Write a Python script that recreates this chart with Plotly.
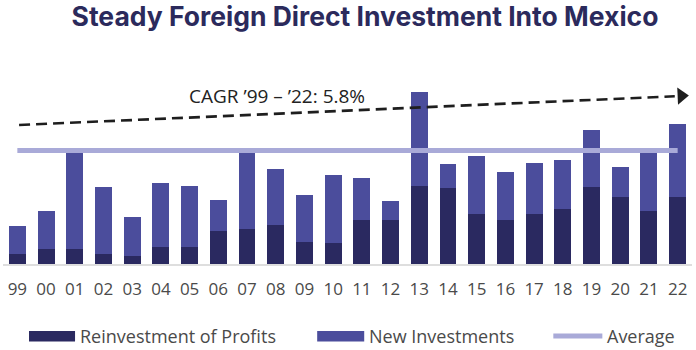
import plotly.graph_objects as go

years = ["99", "00", "01", "02", "03", "04", "05", "06", "07", "08", "09", "10",
         "11", "12", "13", "14", "15", "16", "17", "18", "19", "20", "21", "22"]
reinvestment = [2.7, 4.2, 4.2, 2.7, 2.3, 4.8, 4.8, 9.3, 9.8, 10.8, 6.0, 5.9,
                12.3, 12.3, 21.6, 21.0, 13.8, 12.3, 14.0, 15.4, 21.3, 18.7, 14.6, 18.7]
new_investments = [7.9, 10.5, 26.6, 18.6, 10.7, 17.6, 16.9, 8.4, 21.0, 15.6, 13.1, 18.7,
                   11.7, 5.2, 26.2, 6.9, 16.1, 13.2, 14.1, 13.6, 15.8, 8.2, 16.2, 20.1]
average_value = 31.5
cagr_label = "CAGR \u201999 \u2013 \u201922: 5.8%"
trend_start = 38.6   # dashed CAGR guide, value at first year
trend_end = 46.6     # value near last year

DARK = "#2a2960"
MID = "#4b4d9c"
LAV = "#a9aad8"
TXT = "#4a4a4a"
BODY = "Open Sans"

xs = list(range(len(years)))
n = len(years)

fig = go.Figure()
fig.add_trace(go.Bar(x=xs, y=reinvestment, name="Reinvestment of Profits",
                     marker=dict(color=DARK, line=dict(width=0)), width=0.59))
fig.add_trace(go.Bar(x=xs, y=new_investments, name="New Investments",
                     marker=dict(color=MID, line=dict(width=0)), width=0.59))
fig.add_trace(go.Scatter(x=[0, n - 1], y=[average_value, average_value], mode="lines",
                         name="Average", line=dict(color=LAV, width=5)))

# dashed CAGR trend with arrow head
tx0, tx1 = 0.06, n - 1.1
fig.add_trace(go.Scatter(x=[tx0, tx1], y=[trend_start, trend_end], mode="lines",
                         line=dict(color="#1e1e1e", width=2.6, dash="11px,6px"),
                         showlegend=False, hoverinfo="skip"))
slope = (trend_end - trend_start) / (tx1 - tx0)
ax = n - 0.87
fig.add_trace(go.Scatter(x=[ax], y=[trend_start + slope * (ax - tx0)], mode="markers",
                         marker=dict(symbol="triangle-right", size=15, color="#1e1e1e",
                                     angle=-2.5, line=dict(width=0)),
                         showlegend=False, hoverinfo="skip"))

fig.add_annotation(x=9.03, y=46.6, text=cagr_label, showarrow=False,
                   font=dict(family=BODY, size=19, color="#222222"),
                   xanchor="center", yanchor="middle")

# manual legend (pixel geometry converted to paper coords)
L, R, T, B = 3, 4.4, 60, 86
W, H = 696 - L - R, 350 - T - B
def px(xp): return (xp - L) / W
def py(yp): return (350 - B - yp) / H

legend_items = [("Reinvestment of Profits", DARK, 29, 75, "bar"),
                ("New Investments", MID, 317, 364, "bar"),
                ("Average", LAV, 553, 602, "line")]
for label, col, x0, x1, kind in legend_items:
    if kind == "bar":
        fig.add_shape(type="rect", xref="paper", yref="paper",
                      x0=px(x0), x1=px(x1), y0=py(341.5), y1=py(331),
                      fillcolor=col, line=dict(width=0))
    else:
        fig.add_shape(type="line", xref="paper", yref="paper",
                      x0=px(x0), x1=px(x1), y0=py(336), y1=py(336),
                      line=dict(color=col, width=5))
    fig.add_annotation(xref="paper", yref="paper", x=px(x1 + 3), y=py(336), text=label,
                       showarrow=False, xanchor="left", yanchor="middle",
                       font=dict(family=BODY, size=18, color=TXT))

fig.update_layout(
    barmode="stack",
    width=696, height=350,
    margin=dict(l=L, r=R, t=T, b=B),
    paper_bgcolor="white", plot_bgcolor="white",
    showlegend=False,
    title=dict(text="<b>Steady Foreign Direct Investment Into Mexico</b>",
               x=365 / 696, xanchor="center", xref="container",
               y=1 - 16.5 / 350, yanchor="middle", yref="container",
               font=dict(family="Inter", size=26.5, color="#2b2a5c")),
    xaxis=dict(range=[-0.5, n - 0.5], tickmode="array", tickvals=xs, ticktext=years,
               showgrid=False, zeroline=False, showline=True, linecolor="#dedede",
               linewidth=2, ticks="", tickfont=dict(family=BODY, size=17, color=TXT),
               ticklabelstandoff=9),
    yaxis=dict(range=[0, H / 3.6], visible=False, showgrid=False, zeroline=False),
)

fig.write_html("out.html")
